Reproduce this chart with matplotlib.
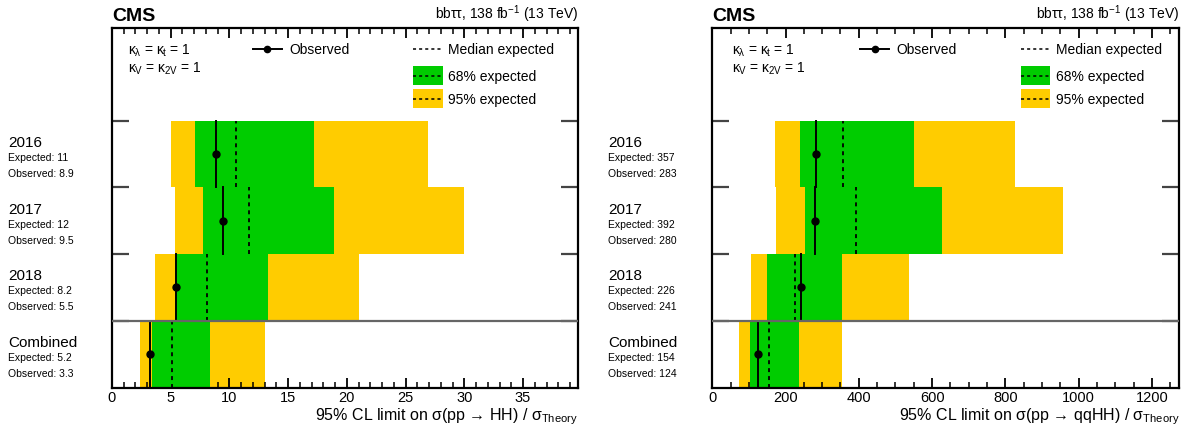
import numpy as np
import matplotlib
matplotlib.use("Agg")
import matplotlib.pyplot as plt
from matplotlib.ticker import MultipleLocator
from matplotlib.patches import Rectangle
from matplotlib.lines import Line2D

plt.rcParams['font.family'] = ['Liberation Sans', 'DejaVu Sans']
plt.rcParams['mathtext.fontset'] = 'custom'
plt.rcParams['mathtext.rm'] = 'Liberation Sans'
plt.rcParams['mathtext.it'] = 'Liberation Sans'
plt.rcParams['mathtext.bf'] = 'Liberation Sans:bold'

# rows, top to bottom
rows = ['2016', '2017', '2018', 'Combined']

# sigma(pp -> HH) limits
hh_obs = [8.9, 9.46, 5.47, 3.27]
hh_exp = [10.6, 11.65, 8.13, 5.15]
hh_lo68 = [7.1, 7.72, 5.38, 3.43]
hh_hi68 = [17.17, 18.9, 13.33, 8.35]
hh_lo95 = [5.05, 5.42, 3.71, 2.43]
hh_hi95 = [26.9, 29.95, 21.0, 13.0]
hh_exp_txt = ['11', '12', '8.2', '5.2']
hh_obs_txt = ['8.9', '9.5', '5.5', '3.3']

# sigma(pp -> qqHH) limits
qq_obs = [283, 280, 241, 124]
qq_exp = [357, 392, 226, 154]
qq_lo68 = [239, 252, 148, 102]
qq_hi68 = [552, 626, 355, 238]
qq_lo95 = [172, 175, 105, 73]
qq_hi95 = [827, 958, 536, 353]
qq_exp_txt = ['357', '392', '226', '154']
qq_obs_txt = ['283', '280', '241', '124']

GREEN = '#00cc00'
YELLOW = '#ffcc00'
W, H = 1191, 439


def draw_panel(ax, obs, exp, lo68, hi68, lo95, hi95, exp_txt, obs_txt,
               xmax, major, minor, xlabel, leg):
    n = len(rows)
    yc = np.arange(n)[::-1] + 0.5
    ax.barh(yc, np.array(hi95) - np.array(lo95), left=lo95, height=1.0,
            color=YELLOW, linewidth=0, zorder=1)
    ax.barh(yc, np.array(hi68) - np.array(lo68), left=lo68, height=1.0,
            color=GREEN, linewidth=0, zorder=2)
    for i in range(n):
        ax.plot([exp[i], exp[i]], [yc[i] - 0.5, yc[i] + 0.5], color='black',
                ls=(0, (2.2, 2.2)), lw=1.3, zorder=3)
        ax.plot([obs[i], obs[i]], [yc[i] - 0.5, yc[i] + 0.5], color='black',
                lw=1.4, zorder=4)
    ax.plot(obs, yc, 'o', color='black', ms=5, zorder=5)
    ax.axhline(1.0, color='#666666', lw=1.6, zorder=6)

    ax.set_xlim(0, xmax)
    ax.set_ylim(0, 5.39)
    ax.xaxis.set_major_locator(MultipleLocator(major))
    ax.xaxis.set_minor_locator(MultipleLocator(minor))
    ax.tick_params(axis='x', which='major', direction='in', length=7, width=1.3,
                   top=True, labelsize=10.5, pad=2)
    ax.tick_params(axis='x', which='minor', direction='in', length=4, width=1.1,
                   top=True)
    ax.set_yticks([1, 2, 3, 4])
    ax.tick_params(axis='y', which='major', direction='in', length=12, width=1.6,
                   color='#444444', left=True, right=True, labelleft=False)
    for s in ax.spines.values():
        s.set_linewidth(1.6)

    ax.set_xlabel(xlabel, fontsize=11.5, ha='right', x=1.0, labelpad=1)

    ax.text(0.0, 1.01, 'CMS', transform=ax.transAxes, fontsize=14,
            fontweight='bold', ha='left', va='bottom')
    ax.text(1.0, 1.012, r'bb$\tau\tau$, 138 fb$^{-1}$ (13 TeV)',
            transform=ax.transAxes, fontsize=10, ha='right', va='bottom')

    # left-hand row labels
    x0 = ax.get_position().x0
    xl = x0 - leg['lab'] / W
    for i in range(n):
        yfig = ax.transData.transform((0, yc[i]))[1] / fig.dpi / fig.get_figheight()
        fig.text(xl, yfig + 12 / H, rows[i], fontsize=11, ha='left', va='center')
        fig.text(xl, yfig - 3 / H, 'Expected: ' + exp_txt[i], fontsize=7.5,
                 ha='left', va='center')
        fig.text(xl, yfig - 19 / H, 'Observed: ' + obs_txt[i], fontsize=7.5,
                 ha='left', va='center')

    # legend block
    ax.text(leg['k'], 0.94, r'$\kappa_{\lambda}$ = $\kappa_{t}$ = 1',
            transform=ax.transAxes, fontsize=10, va='center')
    ax.text(leg['k'], 0.89, r'$\kappa_{V}$ = $\kappa_{2V}$ = 1',
            transform=ax.transAxes, fontsize=10, va='center')
    ox = leg['o']
    ax.add_line(Line2D([ox, ox + 0.062], [0.942, 0.942], transform=ax.transAxes,
                       color='black', lw=1.4))
    ax.add_line(Line2D([ox + 0.031], [0.942], transform=ax.transAxes,
                       marker='o', color='black', ms=4.5))
    ax.text(ox + 0.078, 0.942, 'Observed', transform=ax.transAxes,
            fontsize=10, va='center')
    mx = leg['m']
    ax.add_line(Line2D([mx, mx + 0.062], [0.942, 0.942], transform=ax.transAxes,
                       color='black', lw=1.1, ls=(0, (2, 2))))
    ax.text(mx + 0.075, 0.942, 'Median expected', transform=ax.transAxes,
            fontsize=10, va='center')
    for yy, col, txt in [(0.867, GREEN, '68% expected'),
                         (0.803, YELLOW, '95% expected')]:
        ax.add_patch(Rectangle((mx, yy - 0.026), 0.064, 0.052,
                               transform=ax.transAxes, color=col, lw=0))
        ax.add_line(Line2D([mx, mx + 0.064], [yy, yy], transform=ax.transAxes,
                           color='black', lw=1.1, ls=(0, (2, 2))))
        ax.text(mx + 0.075, yy, txt, transform=ax.transAxes, fontsize=10,
                va='center')


fig = plt.figure(figsize=(W / 100, H / 100), dpi=100)
bottom = (H - 388.5) / H
height = 359.5 / H
ax1 = fig.add_axes([111.8 / W, bottom, 466.5 / W, height])
ax2 = fig.add_axes([712.3 / W, bottom, 467.0 / W, height])

draw_panel(ax1, hh_obs, hh_exp, hh_lo68, hh_hi68, hh_lo95, hh_hi95,
           hh_exp_txt, hh_obs_txt, 39.7, 5, 1,
           '95% CL limit on σ(pp → HH) / ' + r'$\sigma_{\mathrm{Theory}}$',
           {'lab': 104, 'k': 0.034, 'o': 0.302, 'm': 0.645})
draw_panel(ax2, qq_obs, qq_exp, qq_lo68, qq_hi68, qq_lo95, qq_hi95,
           qq_exp_txt, qq_obs_txt, 1275, 200, 50,
           '95% CL limit on σ(pp → qqHH) / ' + r'$\sigma_{\mathrm{Theory}}$',
           {'lab': 104, 'k': 0.043, 'o': 0.317, 'm': 0.66})

fig.savefig('out.png', dpi=100)
